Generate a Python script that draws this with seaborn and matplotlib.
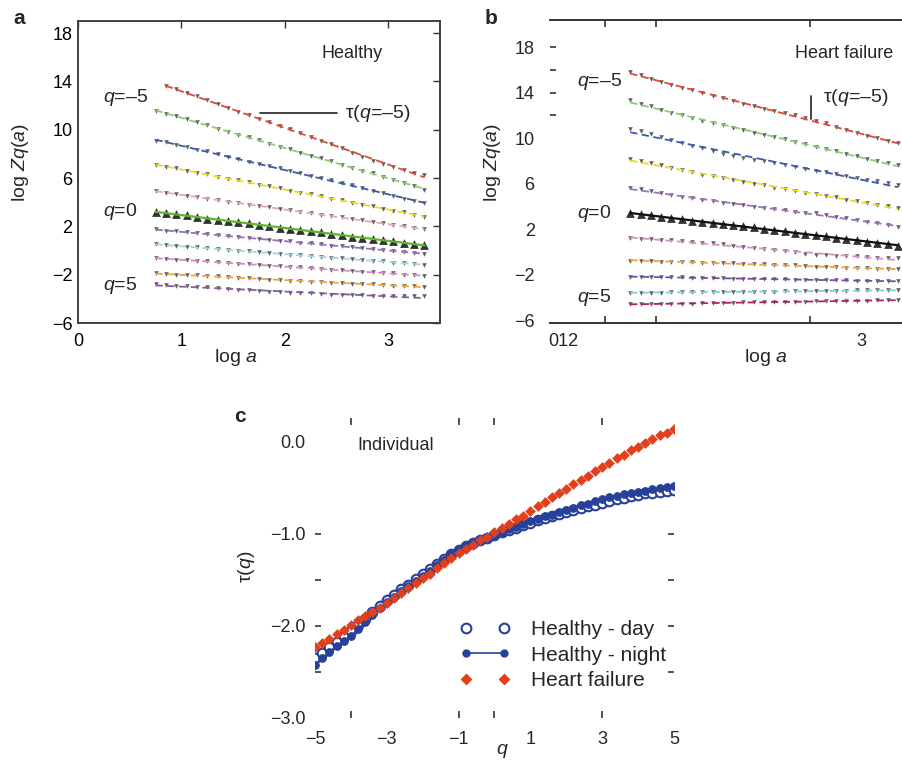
import numpy as np
import matplotlib
matplotlib.use("Agg")
import matplotlib.pyplot as plt
from matplotlib.lines import Line2D
import seaborn as sns

nan = np.nan
# ---------------- data: panels a / b (log Zq(a) vs log a) ----------------
log_a = [0.75, 0.85, 0.95, 1.05, 1.15, 1.25, 1.35, 1.45, 1.55,
         1.65, 1.75, 1.85, 1.95, 2.05, 2.15, 2.25, 2.35, 2.45,
         2.55, 2.65, 2.75, 2.85, 2.95, 3.05, 3.15, 3.25, 3.35]
q_values = [-5, -4, -3, -2, -1, 0, 1, 2, 3, 4, 5]

healthy_qm5 = [nan, 13.65, 13.35, 13.05, 12.75, 12.45, 12.15, 11.8, 11.5,
               11.2, 10.9, 10.6, 10.3, 10.05, 9.7, 9.4, 9.1, 8.8,
               8.45, 8.1, 7.75, 7.45, 7.2, 6.95, 6.7, 6.45, 6.25]
healthy_qm4 = [11.55, 11.3, 11.1, 10.85, 10.6, 10.4, 10.1, 9.85, 9.6,
               9.4, 9.15, 8.85, 8.6, 8.4, 8.1, 7.85, 7.65, 7.4,
               7.1, 6.85, 6.6, 6.4, 6.1, 5.85, 5.6, 5.3, 5.05]
healthy_qm3 = [9.1, 8.95, 8.75, 8.55, 8.35, 8.2, 7.95, 7.75, 7.55,
               7.35, 7.2, 7.0, 6.8, 6.6, 6.4, 6.2, 6.0, 5.8,
               5.6, 5.4, 5.15, 4.95, 4.75, 4.5, 4.3, 4.1, 3.9]
healthy_qm2 = [7.1, 6.95, 6.8, 6.6, 6.45, 6.3, 6.1, 5.95, 5.8,
               5.65, 5.45, 5.3, 5.15, 4.95, 4.8, 4.65, 4.5, 4.3,
               4.15, 3.95, 3.8, 3.65, 3.45, 3.3, 3.15, 2.95, 2.8]
healthy_qm1 = [4.9, 4.8, 4.65, 4.55, 4.4, 4.3, 4.2, 4.05, 3.95,
               3.8, 3.7, 3.6, 3.45, 3.35, 3.2, 3.1, 2.95, 2.85,
               2.75, 2.6, 2.5, 2.35, 2.25, 2.1, 2.0, 1.85, 1.75]
healthy_q0 = [3.2, 3.1, 3.0, 2.9, 2.75, 2.65, 2.55, 2.45, 2.35,
              2.25, 2.15, 2.05, 1.9, 1.8, 1.7, 1.6, 1.5, 1.4,
              1.3, 1.15, 1.05, 0.95, 0.85, 0.75, 0.65, 0.5, 0.45]
healthy_q1 = [1.75, 1.65, 1.6, 1.5, 1.45, 1.35, 1.25, 1.2, 1.1,
              1.05, 0.95, 0.9, 0.8, 0.75, 0.65, 0.6, 0.5, 0.4,
              0.35, 0.25, 0.2, 0.1, 0.05, -0.05, -0.1, -0.2, -0.25]
healthy_q2 = [0.5, 0.45, 0.4, 0.3, 0.25, 0.2, 0.1, 0.05, 0.0,
              -0.05, -0.15, -0.2, -0.25, -0.35, -0.4, -0.45, -0.5, -0.6,
              -0.65, -0.7, -0.8, -0.85, -0.9, -1.0, -1.05, -1.1, -1.2]
healthy_q3 = [-0.65, -0.7, -0.75, -0.8, -0.85, -0.9, -0.95, -1.0, -1.1,
              -1.15, -1.2, -1.25, -1.3, -1.35, -1.4, -1.45, -1.5, -1.6,
              -1.65, -1.7, -1.75, -1.8, -1.85, -1.9, -2.0, -2.05, -2.1]
healthy_q4 = [-1.9, -1.95, -2.0, -2.0, -2.05, -2.1, -2.15, -2.2, -2.25,
              -2.3, -2.35, -2.4, -2.45, -2.5, -2.55, -2.6, -2.6, -2.65,
              -2.7, -2.75, -2.8, -2.8, -2.85, -2.9, -2.9, -2.95, -3.0]
healthy_q5 = [-2.8, -2.85, -2.9, -2.95, -3.0, -3.05, -3.1, -3.2, -3.25,
              -3.3, -3.35, -3.4, -3.45, -3.5, -3.55, -3.55, -3.6, -3.65,
              -3.65, -3.7, -3.7, -3.75, -3.75, -3.75, -3.8, -3.8, -3.8]

hf_qm5 = [15.85, 15.55, 15.25, 14.95, 14.7, 14.45, 14.2, 13.95, 13.7,
          13.5, 13.25, 13.05, 12.85, 12.6, 12.4, 12.2, 12.0, 11.8,
          11.55, 11.3, 11.0, 10.7, 10.45, 10.2, 10.0, 9.75, 9.55]
hf_qm4 = [13.35, 13.05, 12.8, 12.5, 12.25, 12.0, 11.8, 11.55, 11.35,
          11.15, 10.9, 10.7, 10.5, 10.3, 10.1, 9.9, 9.7, 9.45,
          9.25, 9.05, 8.85, 8.6, 8.4, 8.2, 8.0, 7.8, 7.6]
hf_qm3 = [10.85, 10.6, 10.35, 10.1, 9.85, 9.6, 9.35, 9.1, 8.85,
          8.65, 8.45, 8.3, 8.1, 7.95, 7.8, 7.6, 7.45, 7.3,
          7.15, 7.0, 6.85, 6.65, 6.5, 6.35, 6.2, 6.05, 5.9]
hf_qm2 = [8.2, 8.0, 7.8, 7.6, 7.4, 7.2, 7.0, 6.8, 6.65,
          6.5, 6.3, 6.15, 6.0, 5.85, 5.65, 5.5, 5.35, 5.2,
          5.1, 4.95, 4.8, 4.6, 4.45, 4.3, 4.15, 4.0, 3.9]
hf_qm1 = [5.65, 5.5, 5.35, 5.15, 5.0, 4.85, 4.7, 4.55, 4.45,
          4.3, 4.2, 4.1, 3.95, 3.85, 3.75, 3.65, 3.55, 3.45,
          3.4, 3.25, 3.1, 2.95, 2.8, 2.65, 2.5, 2.35, 2.2]
hf_q0 = [3.4, 3.3, 3.2, 3.05, 2.95, 2.85, 2.75, 2.65, 2.55,
         2.45, 2.35, 2.25, 2.15, 2.0, 1.9, 1.8, 1.7, 1.6,
         1.5, 1.4, 1.25, 1.15, 1.0, 0.9, 0.75, 0.65, 0.5]
hf_q1 = [1.2, 1.15, 1.1, 1.05, 1.0, 0.95, 0.9, 0.8, 0.75,
         0.65, 0.55, 0.45, 0.35, 0.25, 0.15, 0.05, -0.05, -0.15,
         -0.25, -0.3, -0.35, -0.4, -0.4, -0.45, -0.5, -0.55, -0.55]
hf_q2 = [-0.8, -0.8, -0.8, -0.85, -0.85, -0.9, -0.9, -0.95, -0.95,
         -1.0, -1.0, -1.05, -1.1, -1.1, -1.15, -1.2, -1.2, -1.25,
         -1.3, -1.3, -1.35, -1.4, -1.4, -1.45, -1.5, -1.5, -1.55]
hf_q3 = [-2.2, -2.2, -2.2, -2.25, -2.25, -2.25, -2.3, -2.3, -2.3,
         -2.3, -2.35, -2.35, -2.35, -2.4, -2.4, -2.4, -2.45, -2.45,
         -2.45, -2.5, -2.5, -2.5, -2.55, -2.55, -2.55, -2.6, -2.6]
hf_q4 = [-3.6, -3.6, -3.6, -3.6, -3.55, -3.55, -3.55, -3.55, -3.55,
         -3.5, -3.5, -3.5, -3.5, -3.5, -3.5, -3.45, -3.45, -3.45,
         -3.45, -3.45, -3.45, -3.45, -3.4, -3.4, -3.4, -3.4, -3.4]
hf_q5 = [-4.6, -4.6, -4.6, -4.55, -4.55, -4.55, -4.55, -4.5, -4.5,
         -4.5, -4.5, -4.45, -4.45, -4.45, -4.45, -4.4, -4.4, -4.4,
         -4.35, -4.35, -4.35, -4.3, -4.3, -4.3, -4.25, -4.25, -4.25]

# ---------------- data: panel c (tau(q) vs q) ----------------
q_c = [-5.0, -4.8, -4.6, -4.4, -4.2, -4.0, -3.8, -3.6, -3.4, -3.2, -3.0, -2.8, -2.6,
       -2.4, -2.2, -2.0, -1.8, -1.6, -1.4, -1.2, -1.0, -0.8, -0.6, -0.4, -0.2, 0.0,
       0.2, 0.4, 0.6, 0.8, 1.0, 1.2, 1.4, 1.6, 1.8, 2.0, 2.2, 2.4, 2.6, 2.8, 3.0,
       3.2, 3.4, 3.6, 3.8, 4.0, 4.2, 4.4, 4.6, 4.8, 5.0]
tau_heart_failure = [-2.23, -2.18, -2.14, -2.09, -2.04, -1.99, -1.94, -1.89, -1.85, -1.80, -1.75,
                     -1.70, -1.64, -1.59, -1.53, -1.48, -1.43, -1.37, -1.32, -1.26, -1.21, -1.16,
                     -1.12, -1.07, -1.03, -0.98, -0.93, -0.89, -0.84, -0.80, -0.75, -0.70, -0.65,
                     -0.60, -0.56, -0.51, -0.46, -0.41, -0.37, -0.32, -0.27, -0.23, -0.18, -0.14,
                     -0.09, -0.05, -0.01, 0.03, 0.07, 0.10, 0.14]
tau_healthy_night = [-2.42, -2.35, -2.28, -2.22, -2.16, -2.11, -2.03, -1.96, -1.88, -1.81, -1.74,
                     -1.68, -1.62, -1.57, -1.51, -1.46, -1.40, -1.34, -1.28, -1.22, -1.17, -1.13,
                     -1.10, -1.07, -1.04, -1.01, -0.98, -0.95, -0.92, -0.89, -0.86, -0.84, -0.81,
                     -0.79, -0.76, -0.74, -0.72, -0.69, -0.67, -0.64, -0.62, -0.60, -0.59, -0.57,
                     -0.56, -0.54, -0.53, -0.51, -0.50, -0.49, -0.48]
tau_healthy_day = [-2.35, -2.29, -2.23, -2.17, -2.11, -2.06, -1.99, -1.92, -1.85, -1.78, -1.72,
                   -1.66, -1.60, -1.55, -1.49, -1.44, -1.38, -1.33, -1.27, -1.22, -1.17, -1.13,
                   -1.10, -1.07, -1.04, -1.01, -0.98, -0.96, -0.93, -0.90, -0.88, -0.85, -0.83,
                   -0.81, -0.78, -0.76, -0.74, -0.72, -0.70, -0.68, -0.66, -0.64, -0.62, -0.61,
                   -0.59, -0.58, -0.56, -0.55, -0.54, -0.53, -0.52]

a_ticks = [0, 1, 2, 3]
ab_yticks = [18, 14, 10, 6, 2, -2, -6]
c_xticks = [-5, -3, -1, 1, 3, 5]
c_yticks = [0.0, -1.0, -2.0, -3.0]
c_ytick_labels = ["0.0", "\u22121.0", "\u22122.0", "\u22123.0"]
legend_labels = ["Healthy - day", "Healthy - night", "Heart failure"]

# ---------------- style ----------------
sns.set_theme(style="white")
plt.rcParams["font.family"] = ["Liberation Sans", "DejaVu Sans"]
plt.rcParams["mathtext.fontset"] = "custom"
plt.rcParams["mathtext.rm"] = "Liberation Sans"
plt.rcParams["mathtext.it"] = "Liberation Sans:italic"
plt.rcParams["axes.unicode_minus"] = True

W, H = 903, 762
fig = plt.figure(figsize=(W / 100, H / 100), dpi=100)


def rect(l, t, r, b):
    return [l / W, 1 - b / H, (r - l) / W, (b - t) / H]


def ftext(x, y, s, **kw):
    kw.setdefault("ha", "center")
    kw.setdefault("va", "center")
    fig.text(x / W, 1 - y / H, s, **kw)


axA = fig.add_axes(rect(78, 21, 440, 323))
axB = fig.add_axes(rect(550, 20, 903, 323))
axC = fig.add_axes(rect(315, 418, 674, 718))

healthy_series = [healthy_qm5, healthy_qm4, healthy_qm3, healthy_qm2, healthy_qm1, healthy_q0,
                  healthy_q1, healthy_q2, healthy_q3, healthy_q4, healthy_q5]
hf_series = [hf_qm5, hf_qm4, hf_qm3, hf_qm2, hf_qm1, hf_q0, hf_q1, hf_q2, hf_q3, hf_q4, hf_q5]
healthy_colors = ["#e8472b", "#8ccf6a", "#3a58b8", "#e9dc1c", "#e6a8b8", "#5fb52f",
                  "#9b6cc4", "#9fd8e2", "#d88ac6", "#f2a33a", "#8a5aaa"]
hf_colors = ["#e8472b", "#8ccf6a", "#3a58b8", "#e9dc1c", "#a070c8", "#111111",
             "#d890c8", "#f2a33a", "#7a4ab0", "#7fcfd6", "#b0206e"]


def draw_lines(ax, series, colors):
    x = np.array(log_a)
    for q, y, c in zip(q_values, series, colors):
        y = np.array(y, dtype=float)
        if q == 0:
            sns.regplot(x=x, y=y, ax=ax, ci=None, marker="^",
                        scatter_kws=dict(s=40, color="black", linewidths=0, zorder=3),
                        line_kws=dict(color=c, lw=1.6, zorder=4, ls="-"))
        else:
            sns.regplot(x=x, y=y, ax=ax, ci=None, marker="v",
                        scatter_kws=dict(s=11, color="#3a3a3a", linewidths=0, zorder=2),
                        line_kws=dict(color=c, lw=1.3, ls=(0, (4, 2.5)), zorder=3))
    ax.set_xlabel("")
    ax.set_ylabel("")


# ---------------- panel a ----------------
draw_lines(axA, healthy_series, healthy_colors)
axA.set_xlim(0, 3.5)
axA.set_ylim(-6, 19)
axA.set_xticks(a_ticks)
axA.set_yticks(ab_yticks)
axA.set_yticklabels([str(v).replace("-", "\u2212") for v in ab_yticks])
axA.tick_params(direction="in", length=5, width=1, top=True, right=True,
                labelsize=13, colors="#333333", labelcolor="black")
axA.tick_params(axis="x", pad=7)
axA.tick_params(axis="y", pad=4)
for s in axA.spines.values():
    s.set_color("#404040")
    s.set_linewidth(1.4)
    s.set_visible(True)

# ---------------- panel b ----------------
draw_lines(axB, hf_series, hf_colors)
axB.set_xlim(-0.03, 3.40)
axB.set_ylim(-6.26, 20.4)
axB.xaxis.remove_overlapping_locs = False
axB.yaxis.remove_overlapping_locs = False
axB.set_xticks([0.1, 3.0])
axB.set_xticklabels(["012", "3"])
axB.set_xticks([0.5, 1.0, 2.5], minor=True)
axB.set_yticks(ab_yticks)
axB.set_yticklabels([str(v).replace("-", "\u2212") for v in ab_yticks])
axB.set_yticks([18, 16, 14, 12], minor=True)
axB.tick_params(which="major", length=0, labelsize=13, pad=7)
axB.tick_params(axis="y", which="major", pad=11)
axB.tick_params(axis="x", which="minor", direction="in", length=5, width=1.2,
                top=True, bottom=True, color="#333333")
axB.tick_params(axis="y", which="minor", direction="in", length=4, width=1.2,
                left=True, right=False, color="#333333")
for k in ["left", "right"]:
    axB.spines[k].set_visible(False)
for k in ["top", "bottom"]:
    axB.spines[k].set_visible(True)
    axB.spines[k].set_color("#333333")
    axB.spines[k].set_linewidth(1.4)

# ---------------- panel c ----------------
blue = "#27409a"
red = "#e2401c"
sns.scatterplot(x=q_c, y=tau_healthy_day, ax=axC, marker="o", s=48,
                facecolor="white", edgecolor=blue, linewidth=1.5, zorder=2)
sns.lineplot(x=q_c, y=tau_healthy_night, ax=axC, color=blue, lw=1.2, marker="o",
             markersize=5.5, markeredgecolor=blue, zorder=3)
sns.scatterplot(x=q_c, y=tau_heart_failure, ax=axC, marker="D", s=30,
                color=red, edgecolor=red, linewidth=0, zorder=4)
axC.set_xlabel("")
axC.set_ylabel("")
axC.set_xlim(-5, 5)
axC.set_ylim(-3.0, 0.26)
axC.xaxis.remove_overlapping_locs = False
axC.yaxis.remove_overlapping_locs = False
axC.set_xticks(c_xticks)
axC.set_xticklabels([str(v).replace("-", "\u2212") for v in c_xticks])
axC.set_xticks([-4, -1, 0, 3], minor=True)
axC.set_yticks(c_yticks)
axC.set_yticklabels(c_ytick_labels)
axC.set_yticks([-1.0, -1.5, -2.0, -2.5], minor=True)
axC.tick_params(which="major", length=0, labelsize=13)
axC.tick_params(axis="x", which="major", pad=9)
axC.tick_params(axis="y", which="major", pad=7)
axC.tick_params(axis="x", which="minor", direction="in", length=5, width=1.2,
                top=True, bottom=True, color="#333333")
axC.tick_params(axis="y", which="minor", direction="in", length=4, width=1.2,
                left=True, right=True, color="#333333")
for s in axC.spines.values():
    s.set_visible(False)

handles = [
    Line2D([], [], ls="none", marker="o", mfc="white", mec=blue, mew=1.5, ms=7),
    Line2D([], [], ls="-", lw=1.2, color=blue, marker="o", ms=5),
    Line2D([], [], ls="none", marker="D", color=red, ms=5.5),
]
axC.legend(handles, legend_labels, numpoints=2, loc="upper left",
           bbox_to_anchor=(460 / W, 1 - 620 / H), bbox_transform=fig.transFigure,
           frameon=False, fontsize=15, handlelength=2.4, handletextpad=1.0,
           labelspacing=0.32, borderaxespad=0, borderpad=0)

# ---------------- texts ----------------
ftext(19, 18, "a", fontsize=15, fontweight="heavy")
ftext(491, 18, "b", fontsize=15, fontweight="heavy")
ftext(240, 417, "c", fontsize=15, fontweight="heavy")

ftext(352, 54, "Healthy", fontsize=13)
ftext(844, 54, "Heart failure", fontsize=13)
ftext(396, 445, "Individual", fontsize=13)

ftext(21, 163, r"log $Zq$($a$)", fontsize=14, rotation=90)
ftext(236, 357, r"log $a$", fontsize=14)
ftext(493, 163, r"log $Zq$($a$)", fontsize=14, rotation=90)
ftext(766, 357, r"log $a$", fontsize=14)
ftext(247, 567, r"τ($q$)", fontsize=14, rotation=90)
ftext(502, 751, r"$q$", fontsize=14)

# q labels panel a
ftext(103, 97, "$q$=\u20135", fontsize=14, ha="left")
ftext(103, 212, "$q$=0", fontsize=14, ha="left")
ftext(103, 285, "$q$=5", fontsize=14, ha="left")
# q labels panel b
ftext(577, 82, "$q$=\u20135", fontsize=14, ha="left")
ftext(577, 213, "$q$=0", fontsize=14, ha="left")
ftext(577, 298, "$q$=5", fontsize=14, ha="left")

# tau annotations
fig.add_artist(Line2D([260 / W, 337 / W], [1 - 113 / H, 1 - 113 / H],
                      transform=fig.transFigure, color="#333333", lw=1.3))
ftext(345, 114, "τ($q$=\u20135)", fontsize=14, ha="left")
fig.add_artist(Line2D([811 / W, 811 / W], [1 - 96 / H, 1 - 119 / H],
                      transform=fig.transFigure, color="#333333", lw=1.3))
ftext(823, 97, "τ($q$=\u20135)", fontsize=14, ha="left")

fig.savefig("out.png", dpi=100)
